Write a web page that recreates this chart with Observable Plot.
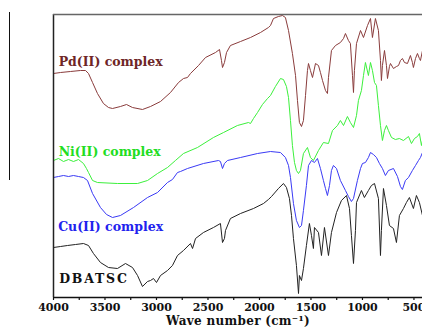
<!DOCTYPE html>
<html><head><meta charset="utf-8">
<script src="https://cdn.jsdelivr.net/npm/d3@7"></script>
<script src="https://cdn.jsdelivr.net/npm/@observablehq/plot@0.6"></script>
<style>
html,body{margin:0;padding:0;background:#fff;}
#wrap{position:relative;width:422px;height:329px;overflow:hidden;}
#edge{position:absolute;left:9px;top:12px;width:0;height:168px;border-left:1.5px solid #111;}
</style></head><body>
<div id="wrap"><div id="edge"></div></div>
<script>
// Series names and colours
const seriesNames = ["Pd(II) complex", "Ni(II) complex", "Cu(II) complex", "DBATSC"];
const lineColors = ["#8a3c3c", "#3cf03c", "#3a3af5", "#222222"];
const labelColors = ["#6e2626", "#22dd22", "#2222ee", "#111111"];

// Pd(II) complex: wavenumber (cm-1) and transmittance (a.u.)
const pdWave = [4000,3932,3835,3738,3689,3660,3621,3573,3515,3466,3427,3350,3291,3233,3136,3058,2961,2864,2786,2738,2699,2670,2592,2524,2427,2388,2369,2359,2340,2320,2282,2184,2087,1990,1913,1893,1864,1816,1777,1748,1718,1680,1650,1631,1612,1592,1573,1553,1534,1524,1505,1485,1456,1427,1408,1388,1359,1340,1330,1301,1262,1214,1184,1165,1136,1117,1097,1087,1078,1058,1019,990,951,922,903,874,845,825,816,806,786,767,757,738,728,699,670,650,631,612,592,563,534,515,505,485,466,447,437,417];
const pdT = [224,225,226,227,227,224,215,204,194,190,189,191,193,190,188,191,196,205,215,219,220,224,232,240,245,248,237,230,235,245,252,256,260,265,270,272,279,281,282,280,267,244,222,197,175,171,177,202,227,234,227,220,234,232,225,217,207,204,220,247,252,255,259,264,257,254,222,205,227,254,267,260,272,279,260,279,267,237,217,232,247,232,219,231,234,229,231,232,237,239,235,234,242,235,230,239,244,239,237,247];

// Ni(II) complex
const niWave = [4000,3951,3903,3854,3806,3757,3709,3680,3660,3621,3573,3379,3184,3087,2990,2893,2816,2738,2602,2447,2349,2214,2107,2087,2058,2019,1971,1922,1893,1845,1796,1767,1738,1718,1699,1680,1660,1641,1621,1602,1573,1534,1505,1476,1427,1379,1330,1291,1243,1214,1184,1146,1117,1087,1058,1039,1010,990,971,942,922,903,883,864,845,825,806,786,767,748,718,680,641,602,553,524,495,466,447,427,417];
const niT = [137,139,136,138,136,138,134,129,125,117,115,114,114,117,124,130,137,144,150,160,165,172,175,174,179,185,193,199,202,211,219,218,211,200,177,152,135,127,124,127,144,150,140,137,147,155,154,167,172,177,172,181,175,170,182,197,207,222,235,222,235,227,215,212,192,172,157,167,172,167,160,158,159,157,161,154,159,161,164,152,157];

// Cu(II) complex
const cuWave = [4000,3951,3903,3854,3806,3757,3709,3670,3621,3544,3485,3427,3350,3223,3087,2990,2893,2845,2796,2767,2699,2544,2398,2379,2359,2340,2311,2184,2019,1893,1796,1748,1718,1699,1670,1641,1612,1592,1573,1544,1524,1495,1466,1437,1408,1379,1359,1340,1320,1301,1282,1252,1214,1165,1136,1107,1087,1049,1019,1000,971,942,922,893,864,835,806,777,748,699,660,631,612,583,553,515,485,456,437,417];
const cuT = [120,121,122,121,122,121,120,117,104,90,83,80,82,90,100,105,115,118,125,126,129,134,137,136,129,134,137,140,144,146,145,140,132,120,94,77,70,72,87,112,132,137,135,139,129,117,109,102,112,127,132,129,117,107,101,96,99,117,129,134,135,140,145,143,140,134,129,122,127,129,121,111,108,117,120,127,132,137,140,145];

// DBATSC
const dbWave = [4000,3932,3864,3786,3709,3660,3612,3544,3466,3379,3301,3233,3184,3136,3087,3058,3029,3000,2961,2893,2845,2796,2738,2670,2650,2621,2544,2447,2379,2359,2340,2330,2282,2184,2058,1961,1913,1883,1816,1767,1738,1709,1689,1670,1641,1621,1612,1592,1573,1544,1515,1495,1476,1466,1427,1398,1369,1330,1301,1252,1204,1155,1126,1107,1087,1068,1058,1010,981,942,913,883,845,825,816,796,767,738,699,670,641,602,573,544,505,476,447,417];
const dbT = [50,51,52,53,54,52,44,35,30,29,34,30,22,11,16,17,19,15,22,27,32,42,47,54,49,59,65,70,74,55,59,67,79,84,89,94,98,101,109,114,110,99,82,59,32,4,22,17,29,52,74,62,49,70,65,42,70,42,65,85,97,102,89,62,34,67,95,107,100,107,112,114,99,42,67,109,92,72,69,55,82,89,95,100,89,102,95,82];

// Axis ticks
const majorTicks = [4000,3500,3000,2500,2000,1500,1000,500];
const minorTicks = [3750,3250,2750,2250,1750,1250,750];
const xLabel = "Wave number (cm\u207B\u00B9)";

// Label anchor positions (data coordinates)
const labelWave = [3950, 3950, 3955, 3945];
const labelT = [236, 146, 71, 19];

const waves = [pdWave, niWave, cuWave, dbWave];
const values = [pdT, niT, cuT, dbT];
const rows = [];
seriesNames.forEach((s, i) => waves[i].forEach((w, j) => rows.push({s, wn: w, t: values[i][j]})));

const font = "'DejaVu Serif', 'Liberation Serif', serif";
const labelMarks = seriesNames.map((s, i) =>
  Plot.text([s], {x: () => labelWave[i], y: () => labelT[i], text: d => d, textAnchor: "start",
    fill: labelColors[i], fontSize: 12.5, fontWeight: "bold", fontFamily: font}));

const chart = Plot.plot({
  width: 422, height: 329,
  marginLeft: 53, marginRight: 0, marginTop: 14, marginBottom: 32,
  x: {domain: [4000, 417], label: null},
  y: {domain: [0, 283], axis: null},
  color: {domain: seriesNames, range: lineColors},
  style: {fontFamily: font, fontSize: "11px", fontWeight: "bold", background: "#fff", color: "#111"},
  marks: [
    Plot.axisX(minorTicks, {tickSize: 3, tickFormat: () => "", label: null, strokeWidth: 1.2}),
    Plot.axisX(majorTicks, {tickSize: 3, tickPadding: 3, tickFormat: d => String(d), label: null, fontSize: 11, fontWeight: "bold", strokeWidth: 1.2}),
    Plot.line(rows, {x: "wn", y: "t", z: "s", stroke: "s", strokeWidth: 1}),
    Plot.ruleY([0], {stroke: "#111", strokeWidth: 1.5}),
    Plot.ruleX([4000], {stroke: "#222", strokeWidth: 1.5}),
    Plot.ruleY([283], {stroke: "#666", strokeWidth: 1.5}),
    ...labelMarks,
    Plot.text([xLabel], {frameAnchor: "bottom", dy: 27, text: d => d, fontSize: 12, fontWeight: "bold", fill: "#111"})
  ]
});
d3.select(chart).selectAll("text").filter(function() { return this.textContent === "DBATSC"; })
  .style("letter-spacing", "1.8px");
d3.select(chart).selectAll("text").filter(function() { return this.textContent === xLabel; })
  .style("letter-spacing", "0.3px");
document.getElementById("wrap").appendChild(chart);
</script>
</body></html>
